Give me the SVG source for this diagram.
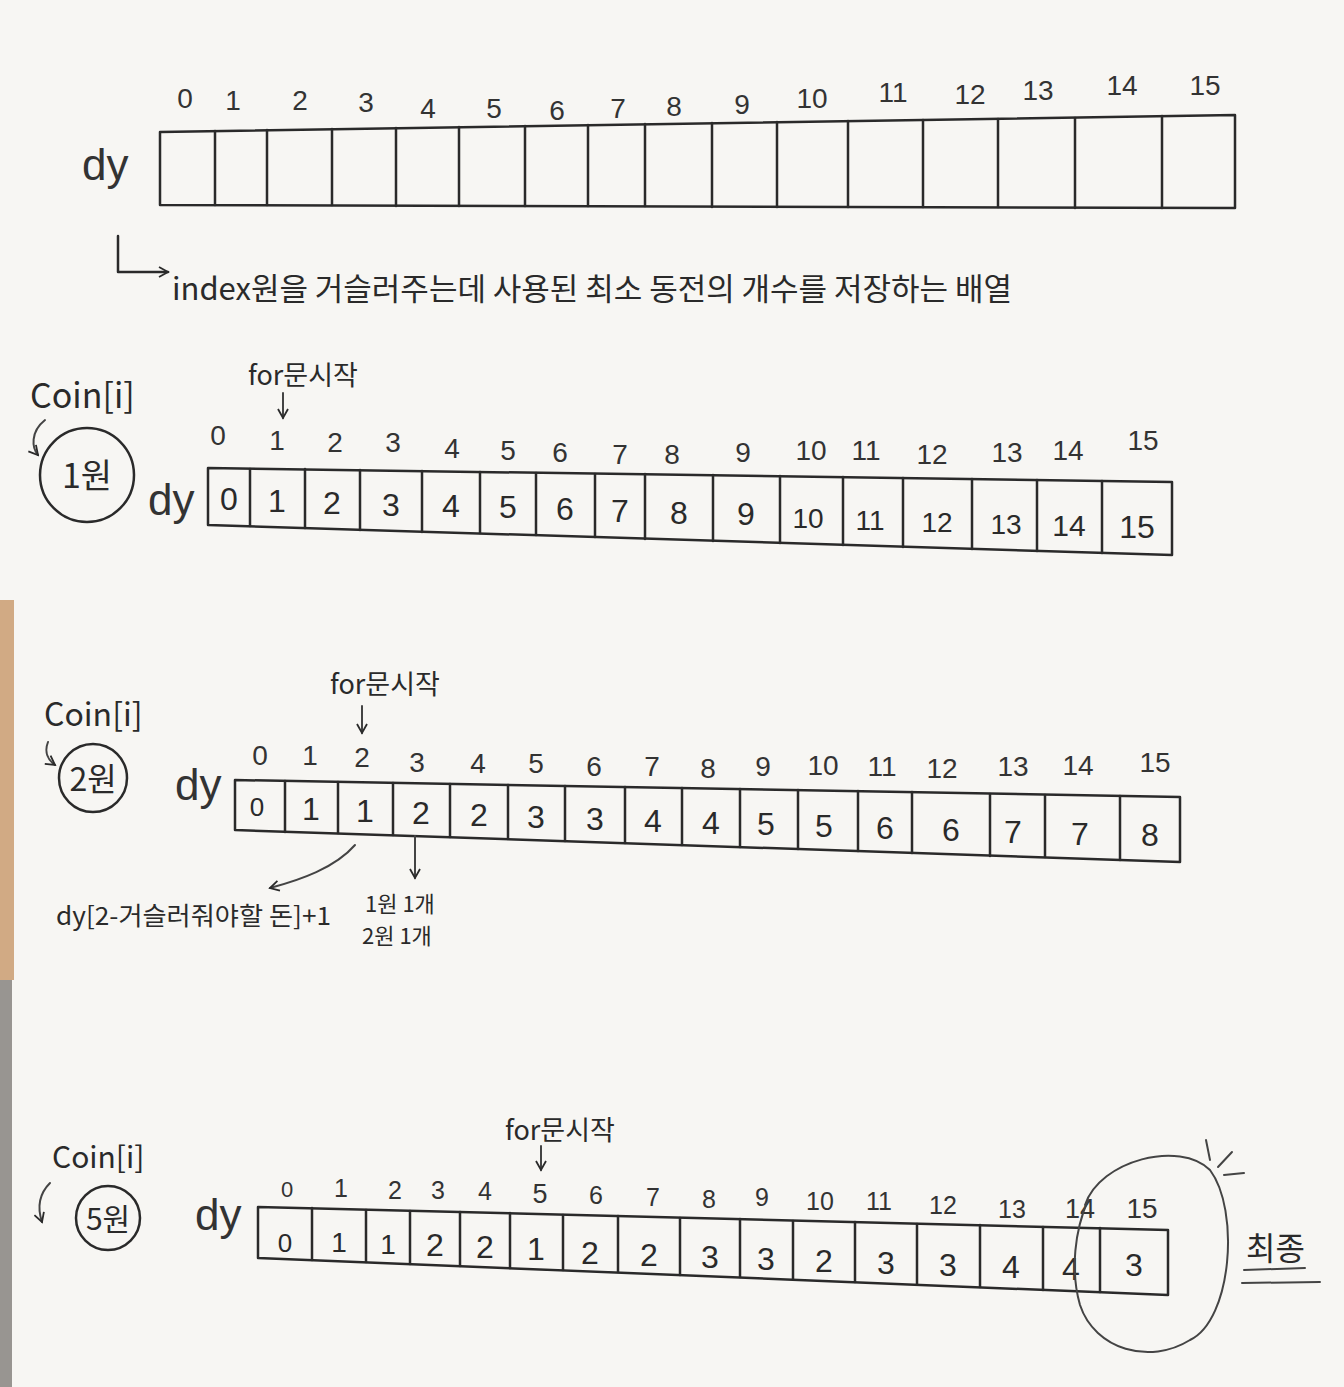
<svg xmlns="http://www.w3.org/2000/svg" width="1344" height="1387" viewBox="0 0 1344 1387">
<defs>
<style>
.ln{fill:none;stroke:#2a2a2a;stroke-width:2.5;stroke-linecap:round;stroke-linejoin:round}
.thin{fill:none;stroke:#444;stroke-width:2;stroke-linecap:round;stroke-linejoin:round}
.idx{font-family:"Liberation Sans","Noto Sans CJK KR",sans-serif;font-size:28px;fill:#333;text-anchor:middle}
.val{font-family:"Liberation Sans","Noto Sans CJK KR",sans-serif;font-size:32px;fill:#2a2a2a;text-anchor:middle}
.ko{font-family:"Noto Sans CJK KR","Liberation Sans",sans-serif;fill:#2a2a2a}
.dy{font-family:"Liberation Sans",sans-serif;font-size:44px;fill:#333}
</style>
<marker id="ah" viewBox="0 0 12 12" refX="10" refY="6" markerWidth="12" markerHeight="12" markerUnits="userSpaceOnUse" orient="auto">
<path d="M1,1 L10,6 L1,11" fill="none" stroke="#2a2a2a" stroke-width="1.8"/>
</marker>
</defs>
<rect width="1344" height="1387" fill="#f7f6f3"/>
<rect x="0" y="600" width="14" height="380" fill="#b8783a" opacity="0.6"/>
<rect x="0" y="980" width="12" height="407" fill="#3a3430" opacity="0.5"/>

<!-- Array 1 -->
<g id="array1">
<polygon class="ln" points="160,132 1235,115 1235,208 160,205"/>
<path class="ln" d="M215,131V205 M267,130V205 M332,129V205 M396,128V206 M459,127V206 M525,126V206 M588,125V206 M645,124V206 M712,123V207 M777,122V207 M848,121V207 M923,120V207 M998,119V207 M1075,118V208 M1162,116V208"/>
<g class="idx">
<text x="185" y="108">0</text><text x="233" y="110">1</text><text x="300" y="110">2</text><text x="366" y="112">3</text><text x="428" y="118">4</text><text x="494" y="118">5</text><text x="557" y="120">6</text><text x="618" y="118">7</text><text x="674" y="116">8</text><text x="742" y="114">9</text><text x="812" y="108">10</text><text x="893" y="102">11</text><text x="970" y="104">12</text><text x="1038" y="100">13</text><text x="1122" y="95">14</text><text x="1205" y="95">15</text>
</g>
<text class="dy" x="82" y="180">dy</text>
</g>

<g id="desc">
<text class="ko" x="172" y="300" font-size="31" textLength="840" lengthAdjust="spacing">index원을 거슬러주는데 사용된 최소 동전의 개수를 저장하는 배열</text>
</g>

<!-- Array 2 -->
<g id="coin1">
<text class="ko" x="30" y="408" font-size="34">Coin[i]</text>
<circle class="ln" cx="87" cy="475" r="47"/>
<text class="ko" x="87" y="488" font-size="34" text-anchor="middle">1원</text>
</g>
<g id="for1">
<text class="ko" x="248" y="385" font-size="27">for문시작</text>
</g>
<g id="array2">
<polygon class="ln" points="208,468 1172,482 1172,555 208,525"/>
<path class="ln" d="M250,469V526 M305,469V528 M360,470V530 M422,471V532 M480,472V533 M536,473V535 M595,474V537 M645,474V539 M713,475V541 M780,476V543 M843,477V545 M903,478V547 M972,479V549 M1037,480V551 M1102,481V553"/>
<g class="idx">
<text x="218" y="445">0</text><text x="277" y="450">1</text><text x="335" y="452">2</text><text x="393" y="452">3</text><text x="452" y="458">4</text><text x="508" y="460">5</text><text x="560" y="462">6</text><text x="620" y="464">7</text><text x="672" y="464">8</text><text x="743" y="462">9</text><text x="811" y="460">10</text><text x="866" y="460">11</text><text x="932" y="464">12</text><text x="1007" y="462">13</text><text x="1068" y="460">14</text><text x="1143" y="450">15</text>
</g>
<g class="val">
<text x="229" y="510">0</text><text x="277" y="512">1</text><text x="332" y="514">2</text><text x="391" y="516">3</text><text x="451" y="517">4</text><text x="508" y="518">5</text><text x="565" y="520">6</text><text x="620" y="522">7</text><text x="679" y="524">8</text><text x="746" y="525">9</text><text x="808" y="528" font-size="28">10</text><text x="870" y="530" font-size="28">11</text><text x="937" y="532" font-size="28">12</text><text x="1006" y="534" font-size="28">13</text><text x="1069" y="536" font-size="30">14</text><text x="1137" y="538">15</text>
</g>
<text class="dy" x="148" y="515">dy</text>
</g>

<!-- Array 3 -->
<g id="coin2">
<text class="ko" x="44" y="726" font-size="32">Coin[i]</text>
<circle class="ln" cx="93" cy="778" r="34"/>
<text class="ko" x="93" y="791" font-size="32" text-anchor="middle">2원</text>
</g>
<g id="for2">
<text class="ko" x="330" y="694" font-size="27">for문시작</text>
</g>
<g id="array3">
<polygon class="ln" points="235,780 1180,797 1180,862 235,830"/>
<path class="ln" d="M285,781V832 M338,782V833 M393,783V835 M450,784V837 M508,785V839 M565,786V841 M625,787V843 M682,788V845 M740,789V847 M798,790V849 M858,791V851 M912,792V853 M990,794V856 M1045,795V857 M1120,796V860"/>
<g class="idx">
<text x="260" y="765">0</text><text x="310" y="765">1</text><text x="362" y="767">2</text><text x="417" y="772">3</text><text x="478" y="773">4</text><text x="536" y="773">5</text><text x="594" y="776">6</text><text x="652" y="776">7</text><text x="708" y="778">8</text><text x="763" y="776">9</text><text x="823" y="775">10</text><text x="882" y="776">11</text><text x="942" y="778">12</text><text x="1013" y="776">13</text><text x="1078" y="775">14</text><text x="1155" y="772">15</text>
</g>
<g class="val">
<text x="257" y="816" font-size="26">0</text><text x="311" y="820">1</text><text x="365" y="822">1</text><text x="421" y="824">2</text><text x="479" y="826">2</text><text x="536" y="828">3</text><text x="595" y="830">3</text><text x="653" y="832">4</text><text x="711" y="834">4</text><text x="766" y="835">5</text><text x="824" y="837">5</text><text x="885" y="839">6</text><text x="951" y="841">6</text><text x="1013" y="843">7</text><text x="1080" y="845">7</text><text x="1150" y="846">8</text>
</g>
<text class="dy" x="175" y="800">dy</text>
</g>

<!-- Array 4 -->
<g id="coin5">
<text class="ko" x="52" y="1168" font-size="30">Coin[i]</text>
<circle class="ln" cx="108" cy="1218" r="32"/>
<text class="ko" x="108" y="1230" font-size="30" text-anchor="middle">5원</text>
</g>
<g id="for5">
<text class="ko" x="505" y="1140" font-size="27">for문시작</text>
</g>
<g id="array4">
<polygon class="ln" points="258,1207 1168,1230 1168,1295 258,1258"/>
<path class="ln" d="M312,1208V1260 M366,1210V1262 M410,1211V1264 M460,1212V1266 M510,1213V1268 M563,1215V1270 M618,1216V1272 M680,1218V1275 M740,1219V1277 M793,1221V1279 M855,1222V1282 M917,1224V1284 M980,1225V1287 M1043,1227V1290 M1100,1228V1292"/>
<g class="idx">
<text x="287" y="1197" font-size="22">0</text><text x="341" y="1197" font-size="25">1</text><text x="395" y="1199" font-size="25">2</text><text x="438" y="1199" font-size="25">3</text><text x="485" y="1200" font-size="25">4</text><text x="540" y="1203" font-size="27">5</text><text x="596" y="1204" font-size="25">6</text><text x="653" y="1206" font-size="25">7</text><text x="709" y="1208" font-size="25">8</text><text x="762" y="1206" font-size="25">9</text><text x="820" y="1210" font-size="25">10</text><text x="879" y="1210" font-size="25">11</text><text x="943" y="1214" font-size="25">12</text><text x="1012" y="1218" font-size="25">13</text><text x="1080" y="1218" font-size="27">14</text><text x="1142" y="1218" font-size="28">15</text>
</g>
<g class="val">
<text x="285" y="1252" font-size="26">0</text><text x="339" y="1252" font-size="28">1</text><text x="388" y="1254" font-size="28">1</text><text x="435" y="1256">2</text><text x="485" y="1258">2</text><text x="536" y="1260">1</text><text x="590" y="1264">2</text><text x="649" y="1266">2</text><text x="710" y="1268">3</text><text x="766" y="1270">3</text><text x="824" y="1272">2</text><text x="886" y="1274">3</text><text x="948" y="1276">3</text><text x="1011" y="1278">4</text><text x="1071" y="1280">4</text><text x="1134" y="1276">3</text>
</g>
<text class="dy" x="195" y="1230">dy</text>
</g>

<g id="final">
<path class="thin" d="M1085,1205 C1100,1160 1180,1140 1210,1170 C1240,1210 1232,1320 1190,1340 C1150,1365 1095,1350 1080,1305 C1070,1270 1075,1230 1088,1200" stroke="#555"/>
<path class="thin" d="M1206,1140 L1210,1160 M1218,1167 L1232,1152 M1224,1175 L1244,1173"/>
<text class="ko" x="1246" y="1260" font-size="32">최종</text>
<path class="thin" d="M1244,1270 L1305,1268 M1242,1283 L1320,1282"/>
</g>

<g id="connectors">
<path class="ln" d="M118,236 V272 H168" marker-end="url(#ah)"/>
<path class="thin" d="M45,420 C30,432 32,448 38,455" marker-end="url(#ah)"/>
<path class="thin" d="M283,393 V418" marker-end="url(#ah)"/>
<path class="thin" d="M48,742 C44,752 48,760 55,765" marker-end="url(#ah)"/>
<path class="thin" d="M362,706 V733" marker-end="url(#ah)"/>
<path class="thin" d="M50,1183 C38,1195 38,1210 42,1222" marker-end="url(#ah)"/>
<path class="thin" d="M541,1146 V1170" marker-end="url(#ah)"/>
<path class="thin" d="M355,845 C335,868 300,880 270,888" marker-end="url(#ah)"/>
<path class="thin" d="M415,836 V878" marker-end="url(#ah)"/>
</g>

<g id="formula">
<text class="ko" x="56" y="925" font-size="25" textLength="275" lengthAdjust="spacingAndGlyphs">dy[2-거슬러줘야할 돈]+1</text>
</g>
<g id="counts">
<text class="ko" x="365" y="912" font-size="22">1원 1개</text>
<text class="ko" x="362" y="944" font-size="22">2원 1개</text>
</g>
</svg>
